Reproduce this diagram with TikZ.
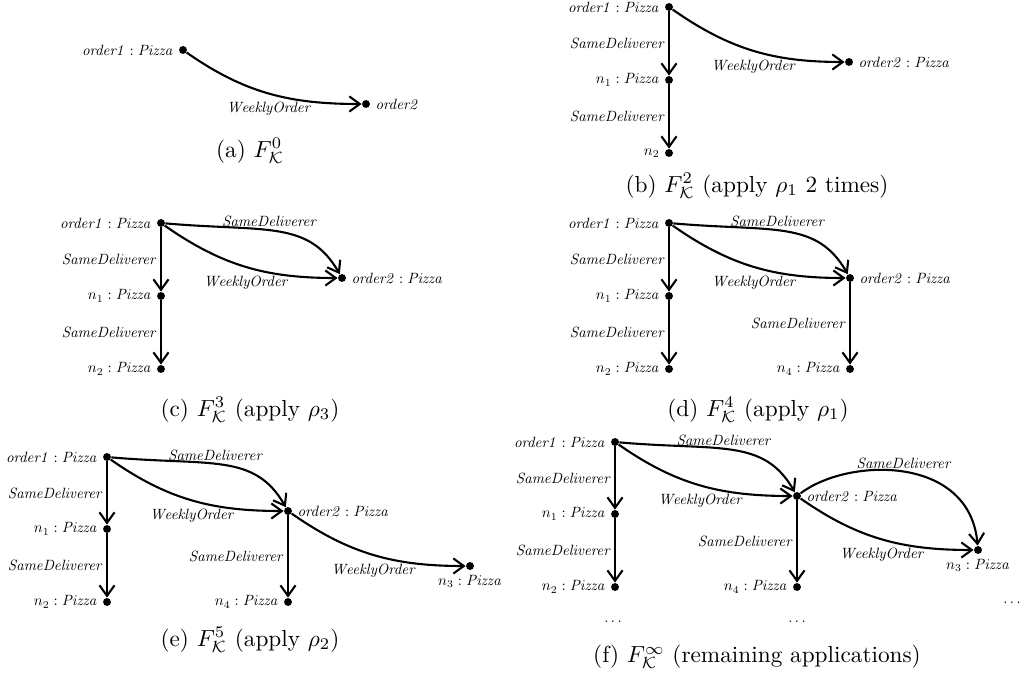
\RequirePackage{fix-cm}
\documentclass[tikz,border=0pt]{standalone}
\usepackage{graphicx}
\usetikzlibrary{arrows.meta}
\newcommand{\lb}[1]{\scalebox{0.64}{$#1$}}
\begin{document}
\begin{tikzpicture}[x=0.43pt,y=0.43pt,
  dot/.style={circle,fill=black,inner sep=0pt,minimum size=3.4pt},
  lbl/.style={inner sep=2pt},
  el/.style={inner sep=1.2pt},
  wl/.style={inner sep=1.2pt,pos=0.5,below=2.2pt},
  rel/.style={line width=0.9pt,-{Straight Barb[length=4.5pt,width=6.5pt]}},
  wo/.style={rel,out=-35,in=180,looseness=1},
  sd/.style={rel,out=-5,in=120,out distance=43pt,in distance=27pt},
  sdtwo/.style={rel,out=37,in=95,out distance=26pt,in distance=39pt},
  captext/.style={font=\normalsize,inner sep=0pt}]
\useasboundingbox (0,0) rectangle (1021,-680);
% ---------- (a)
\node[dot,label={[lbl]left:\lb{\mathit{order1}:\mathit{Pizza}}}] (a1) at (183,-50) {};
\node[dot,label={[lbl]right:\lb{\mathit{order2}}}] (a2) at (366,-104) {};
\draw[wo] (a1) to node[wl]{\lb{\mathit{WeeklyOrder}}} (a2);
\node[captext] (ca) at (250,-151) {(a) $F^{0}_{\mathcal{K}}$};
% ---------- (b)
\node[dot,label={[lbl]left:\lb{\mathit{order1}:\mathit{Pizza}}}] (b1) at (669,-7) {};
\node[dot,label={[lbl]left:\lb{n_1:\mathit{Pizza}}}] (bn1) at (669,-80) {};
\node[dot,label={[lbl]left:\lb{n_2}}] (bn2) at (669,-153) {};
\node[dot,label={[lbl]right:\lb{\mathit{order2}:\mathit{Pizza}}}] (b2) at (849,-62) {};
\draw[rel] (b1) -- node[el,midway,left]{\lb{\mathit{SameDeliverer}}} (bn1);
\draw[rel] (bn1) -- node[el,midway,left]{\lb{\mathit{SameDeliverer}}} (bn2);
\draw[wo] (b1) to node[wl]{\lb{\mathit{WeeklyOrder}}} (b2);
\node[captext] (cb) at (757,-186) {(b) $F^{2}_{\mathcal{K}}$ (apply $\rho_1$ 2 times)};
% ---------- (c)
\node[dot,label={[lbl]left:\lb{\mathit{order1}:\mathit{Pizza}}}] (c1) at (161,-223) {};
\node[dot,label={[lbl]left:\lb{n_1:\mathit{Pizza}}}] (cn1) at (161,-296) {};
\node[dot,label={[lbl]left:\lb{n_2:\mathit{Pizza}}}] (cn2) at (161,-369) {};
\node[dot,label={[lbl]right:\lb{\mathit{order2}:\mathit{Pizza}}}] (c2) at (342,-278) {};
\draw[rel] (c1) -- node[el,midway,left]{\lb{\mathit{SameDeliverer}}} (cn1);
\draw[rel] (cn1) -- node[el,midway,left]{\lb{\mathit{SameDeliverer}}} (cn2);
\draw[wo] (c1) to node[wl]{\lb{\mathit{WeeklyOrder}}} (c2);
\draw[sd] (c1) to node[el,pos=0.45,above]{\lb{\mathit{SameDeliverer}}} (c2);
\node[captext] (cc) at (250,-410) {(c) $F^{3}_{\mathcal{K}}$ (apply $\rho_3$)};
% ---------- (d)
\node[dot,label={[lbl]left:\lb{\mathit{order1}:\mathit{Pizza}}}] (d1) at (669,-223) {};
\node[dot,label={[lbl]left:\lb{n_1:\mathit{Pizza}}}] (dn1) at (669,-296) {};
\node[dot,label={[lbl]left:\lb{n_2:\mathit{Pizza}}}] (dn2) at (669,-369) {};
\node[dot,label={[lbl]right:\lb{\mathit{order2}:\mathit{Pizza}}}] (d2) at (850,-278) {};
\node[dot,label={[lbl]left:\lb{n_4:\mathit{Pizza}}}] (dn4) at (850,-369) {};
\draw[rel] (d1) -- node[el,midway,left]{\lb{\mathit{SameDeliverer}}} (dn1);
\draw[rel] (dn1) -- node[el,midway,left]{\lb{\mathit{SameDeliverer}}} (dn2);
\draw[wo] (d1) to node[wl]{\lb{\mathit{WeeklyOrder}}} (d2);
\draw[sd] (d1) to node[el,pos=0.45,above]{\lb{\mathit{SameDeliverer}}} (d2);
\draw[rel] (d2) -- node[el,midway,left]{\lb{\mathit{SameDeliverer}}} (dn4);
\node[captext] (cd) at (758,-410) {(d) $F^{4}_{\mathcal{K}}$ (apply $\rho_1$)};
% ---------- (e)
\node[dot,label={[lbl]left:\lb{\mathit{order1}:\mathit{Pizza}}}] (e1) at (107,-457) {};
\node[dot,label={[lbl]left:\lb{n_1:\mathit{Pizza}}}] (en1) at (107,-529) {};
\node[dot,label={[lbl]left:\lb{n_2:\mathit{Pizza}}}] (en2) at (107,-602) {};
\node[dot,label={[lbl]right:\lb{\mathit{order2}:\mathit{Pizza}}}] (e2) at (288,-511) {};
\node[dot,label={[lbl]left:\lb{n_4:\mathit{Pizza}}}] (en4) at (288,-602) {};
\node[dot,label={[lbl]below:\lb{n_3:\mathit{Pizza}}}] (en3) at (470,-566) {};
\draw[rel] (e1) -- node[el,midway,left]{\lb{\mathit{SameDeliverer}}} (en1);
\draw[rel] (en1) -- node[el,midway,left]{\lb{\mathit{SameDeliverer}}} (en2);
\draw[wo] (e1) to node[wl]{\lb{\mathit{WeeklyOrder}}} (e2);
\draw[sd] (e1) to node[el,pos=0.45,above]{\lb{\mathit{SameDeliverer}}} (e2);
\draw[rel] (e2) -- node[el,midway,left]{\lb{\mathit{SameDeliverer}}} (en4);
\draw[wo] (e2) to node[wl]{\lb{\mathit{WeeklyOrder}}} (en3);
\node[captext] (ce) at (250,-640) {(e) $F^{5}_{\mathcal{K}}$ (apply $\rho_2$)};
% ---------- (f)
\node[dot,label={[lbl]left:\lb{\mathit{order1}:\mathit{Pizza}}}] (f1) at (615,-442) {};
\node[dot,label={[lbl]left:\lb{n_1:\mathit{Pizza}}}] (fn1) at (615,-514) {};
\node[dot,label={[lbl]left:\lb{n_2:\mathit{Pizza}}}] (fn2) at (615,-587) {};
\node[dot,label={[lbl]right:\lb{\mathit{order2}:\mathit{Pizza}}}] (f2) at (797,-496) {};
\node[dot,label={[lbl]left:\lb{n_4:\mathit{Pizza}}}] (fn4) at (797,-587) {};
\node[dot,label={[lbl]below:\lb{n_3:\mathit{Pizza}}}] (fn3) at (978,-550) {};
\draw[rel] (f1) -- node[el,midway,left]{\lb{\mathit{SameDeliverer}}} (fn1);
\draw[rel] (fn1) -- node[el,midway,left]{\lb{\mathit{SameDeliverer}}} (fn2);
\draw[wo] (f1) to node[wl]{\lb{\mathit{WeeklyOrder}}} (f2);
\draw[sd] (f1) to node[el,pos=0.45,above]{\lb{\mathit{SameDeliverer}}} (f2);
\draw[rel] (f2) -- node[el,midway,left]{\lb{\mathit{SameDeliverer}}} (fn4);
\draw[wo] (f2) to node[wl]{\lb{\mathit{WeeklyOrder}}} (fn3);
\draw[sdtwo] (f2) to node[el,pos=0.5,above]{\lb{\mathit{SameDeliverer}}} (fn3);
\node[lbl] (fd1) at (613,-622) {\lb{\dots}};
\node[lbl] (fd2) at (797,-622) {\lb{\dots}};
\node[lbl] (fd3) at (1012,-603) {\lb{\dots}};
\node[captext] (cf) at (757,-657) {(f) $F^{\infty}_{\mathcal{K}}$ (remaining applications)};
\end{tikzpicture}
\end{document}
